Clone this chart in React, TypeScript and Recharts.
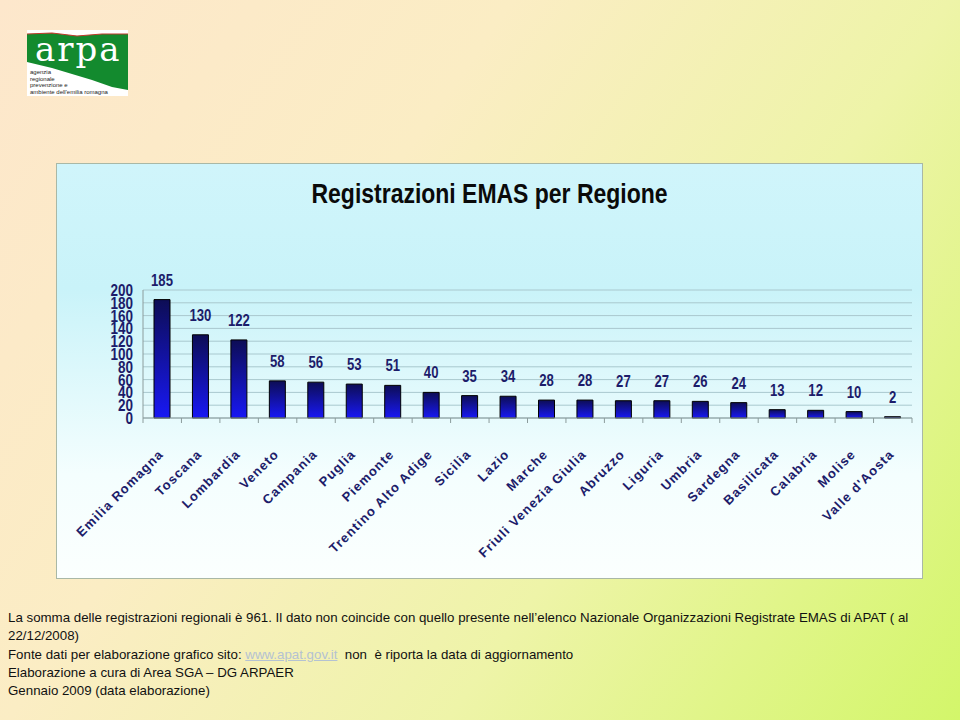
import React from 'react';
import { BarChart, Bar, XAxis, YAxis, CartesianGrid, LabelList } from 'recharts';

// EMAS registrations per Italian region
const regions = [
  'Emilia Romagna', 'Toscana', 'Lombardia', 'Veneto', 'Campania', 'Puglia', 'Piemonte',
  'Trentino Alto Adige', 'Sicilia', 'Lazio', 'Marche', 'Friuli Venezia Giulia', 'Abruzzo',
  'Liguria', 'Umbria', 'Sardegna', 'Basilicata', 'Calabria', 'Molise', "Valle d'Aosta",
];
const registrations = [185, 130, 122, 58, 56, 53, 51, 40, 35, 34, 28, 28, 27, 27, 26, 24, 13, 12, 10, 2];
const yTicks = [0, 20, 40, 60, 80, 100, 120, 140, 160, 180, 200];

const notes = [
  'La somma delle registrazioni regionali è 961. Il dato non coincide con quello presente nell\u2019elenco Nazionale Organizzazioni Registrate EMAS di APAT ( al',
  '22/12/2008)',
];

const data = regions.map((name, i) => ({ name, value: registrations[i] }));

const NAVY = '#1c1c6a';
const SANS = 'Arial, "Liberation Sans", sans-serif';
// no Arial Narrow around, so squeeze Liberation Sans horizontally
const NARROW_X = 0.82;

const RegionTick = (props: any) => {
  const { x, y, payload, index } = props;
  const half = payload?.offset ?? 19.2;
  const axisY = y - 5;
  return (
    <g>
      <line x1={x - half} y1={axisY} x2={x - half} y2={axisY + 5} stroke="#8c9c9c" />
      {index === regions.length - 1 && (
        <line x1={x + half} y1={axisY} x2={x + half} y2={axisY + 5} stroke="#8c9c9c" />
      )}
      <text
        transform={`translate(${x + 2},${axisY + 37}) rotate(-45)`}
        textAnchor="end"
        fill={NAVY}
        fontFamily={SANS}
        fontWeight="bold"
        fontSize={13}
        letterSpacing={1.1}
      >
        {payload.value}
      </text>
    </g>
  );
};

const CountTick = (props: any) => {
  const { x, y, payload } = props;
  return (
    <text
      transform={`translate(${x},${y}) scale(${NARROW_X},1)`}
      textAnchor="end"
      dy="0.36em"
      fill={NAVY}
      fontFamily={SANS}
      fontWeight="bold"
      fontSize={16.5}
    >
      {payload.value}
    </text>
  );
};

const ValueLabel = (props: any) => {
  const { x, y, width, value } = props;
  return (
    <text
      transform={`translate(${x + width / 2},${y - 14}) scale(${NARROW_X},1)`}
      textAnchor="middle"
      fill={NAVY}
      fontFamily={SANS}
      fontWeight="bold"
      fontSize={16}
    >
      {value}
    </text>
  );
};

function Logo() {
  return (
    <svg width={101} height={66} style={{ position: 'absolute', left: 27, top: 30 }}>
      <rect x={0} y={0} width={101} height={66} fill="#ffffff" />
      <polygon
        points="0,4 25,3 50,6 75,4 101,4 101,60 85,57 65,50 45,44 25,38 0,32"
        fill="#138a2e"
      />
      <polyline points="0,4 25,3 50,6 75,4 101,4" fill="none" stroke="#c0392b" strokeWidth={1.2} />
      <text
        x={8}
        y={31}
        fill="#ffffff"
        fontFamily="'DejaVu Serif', 'Liberation Serif', serif"
        fontSize={34}
        letterSpacing={2}
      >
        arpa
      </text>
      <g fill="#222" fontFamily={SANS} fontSize={6}>
        <text x={3} y={44}>agenzia</text>
        <text x={3} y={50.5}>regionale</text>
        <text x={3} y={57}>prevenzione    e</text>
        <text x={3} y={63.5}>ambiente dell'emilia romagna</text>
      </g>
    </svg>
  );
}

export default function App() {
  return (
    <div
      style={{
        position: 'absolute',
        left: 0,
        top: 0,
        width: 960,
        height: 720,
        overflow: 'hidden',
        background: 'linear-gradient(125deg, #fde7cc 0%, #fbedc4 35%, #eef4a8 65%, #d3f66a 100%)',
        fontFamily: SANS,
      }}
    >
      <Logo />

      <div
        style={{
          position: 'absolute',
          left: 56,
          top: 163,
          width: 865,
          height: 414,
          border: '1px solid #a9b8a6',
          background: 'linear-gradient(to bottom, #d0f5fb 0%, #c9f3f9 30%, #f4fefe 75%, #fbfffe 100%)',
        }}
      >
        <div
          style={{
            position: 'absolute',
            left: 0,
            top: 14,
            width: '100%',
            textAlign: 'center',
            fontWeight: 'bold',
            fontSize: 28,
            color: '#0a0a0a',
            transform: `scaleX(${NARROW_X})`,
          }}
        >
          Registrazioni EMAS per Regione
        </div>

        <div style={{ position: 'absolute', left: -1, top: -1 }}>
          <BarChart
            width={866}
            height={415}
            data={data}
            margin={{ top: 127, right: 10, bottom: 10, left: 0 }}
            barCategoryGap={0}
          >
            <defs>
              <linearGradient id="barFill" x1="0" y1="0" x2="0" y2="1">
                <stop offset="0%" stopColor="#0d0d55" />
                <stop offset="100%" stopColor="#1818f4" />
              </linearGradient>
            </defs>
            <CartesianGrid vertical={false} stroke="#a9c8ce" />
            <YAxis
              width={87}
              domain={[0, 200]}
              ticks={yTicks}
              interval={0}
              axisLine={{ stroke: '#8c9c9c' }}
              tickLine={false}
              tickSize={6}
              tickMargin={4}
              tick={(p: any) => <CountTick {...p} />}
            />
            <XAxis
              dataKey="name"
              height={150}
              interval={0}
              axisLine={{ stroke: '#8c9c9c' }}
              tickLine={false}
              tickSize={5}
              tickMargin={0}
              tick={(p: any) => <RegionTick {...p} />}
            />
            <Bar
              dataKey="value"
              barSize={16}
              fill="url(#barFill)"
              stroke="#000000"
              strokeWidth={1}
              isAnimationActive={false}
            >
              <LabelList dataKey="value" content={(p: any) => <ValueLabel {...p} />} />
            </Bar>
          </BarChart>
        </div>
      </div>

      <div
        style={{
          position: 'absolute',
          left: 8,
          top: 609,
          fontSize: 13.3,
          lineHeight: '18.3px',
          color: '#111',
          whiteSpace: 'nowrap',
        }}
      >
        <div>{notes[0]}</div>
        <div>{notes[1]}</div>
        <div>
          Fonte dati per elaborazione grafico sito:{' '}
          <span style={{ color: '#b4c2d2', textDecoration: 'underline' }}>www.apat.gov.it</span>
          &nbsp;&nbsp;non&nbsp; è riporta la data di aggiornamento
        </div>
        <div>Elaborazione a cura di Area SGA – DG ARPAER</div>
        <div>Gennaio 2009 (data elaborazione)</div>
      </div>
    </div>
  );
}
